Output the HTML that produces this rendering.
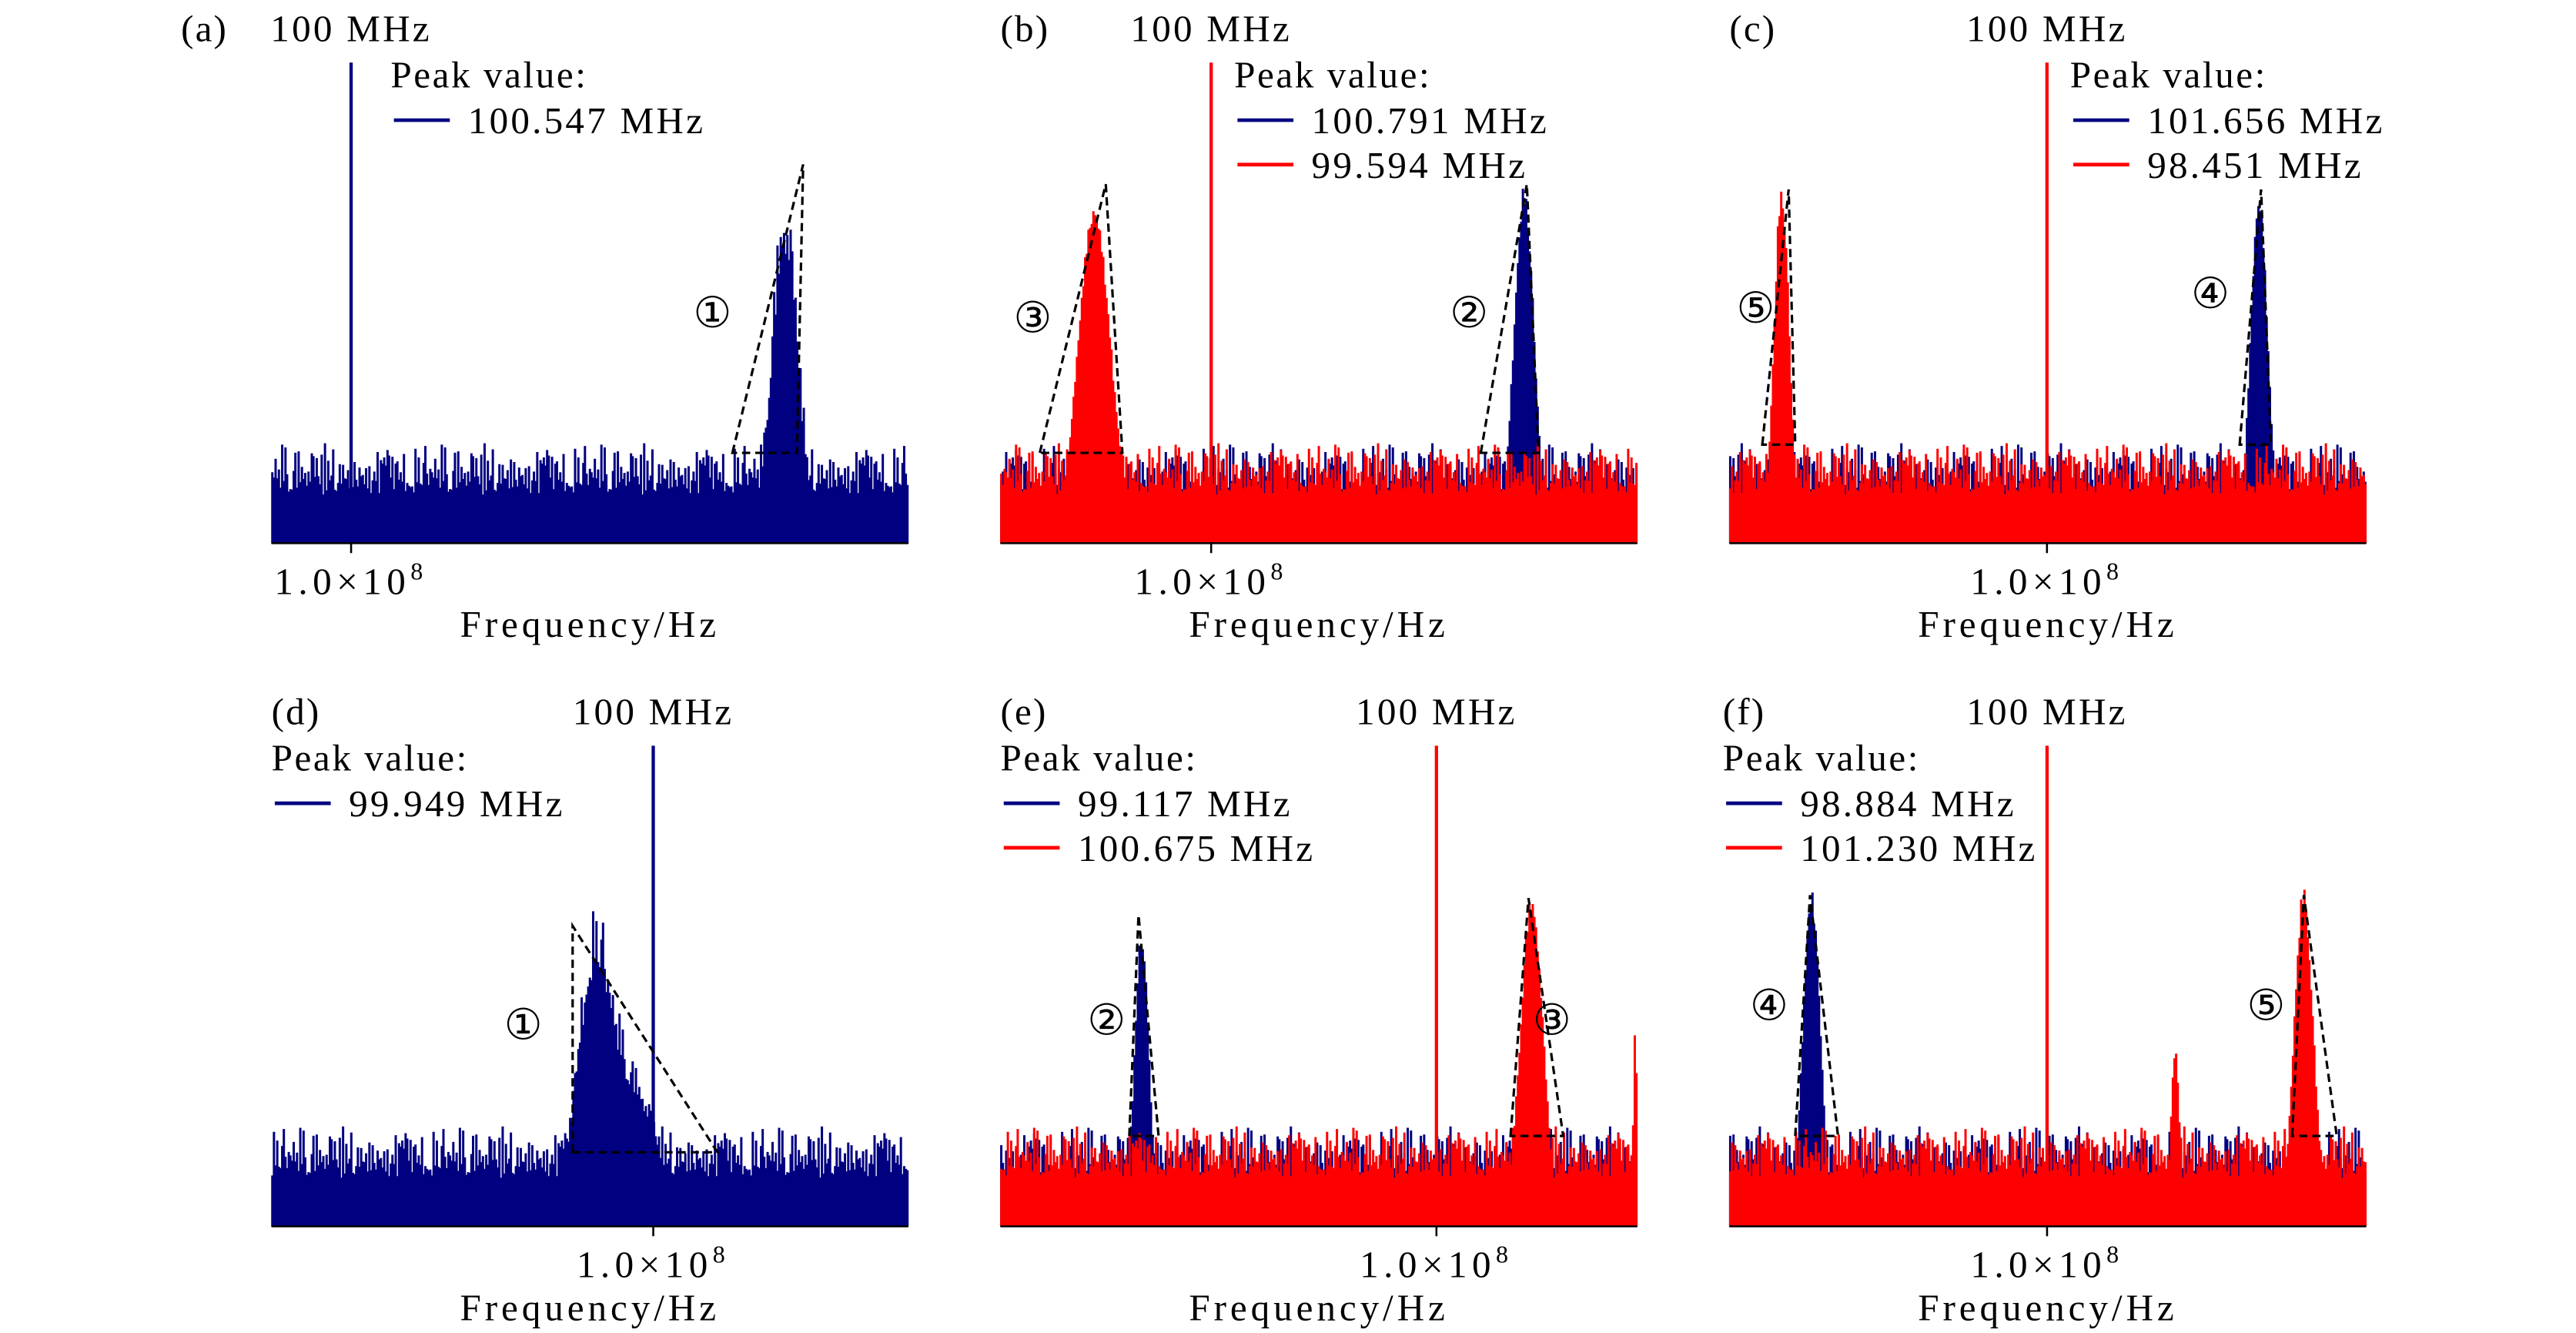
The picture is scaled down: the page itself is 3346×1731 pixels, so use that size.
<!DOCTYPE html>
<html><head><meta charset="utf-8">
<style>
html,body{margin:0;padding:0;background:#fff;}
svg{display:block;}
text{font-family:"Liberation Serif","DejaVu Serif",serif;fill:#000;}
.circ{font-family:"DejaVu Sans","Liberation Serif",sans-serif;}
</style></head>
<body>
<svg id="fig" xmlns="http://www.w3.org/2000/svg" width="3346" height="1731" viewBox="0 0 1565.5 809.8" preserveAspectRatio="none"></svg>
<script>
// ---- data arrays ----
const panelIds = ['a','b','c','d','e','f'];
const panelLo = [99.90, 99.464, 97.522, 99.072, 98.693, 98.494];
const panelHi = [100.70, 101.084, 102.491, 100.620, 100.602, 101.513];
const carrierFreq = [100, 100, 100, 100, 100, 100];
const carrierColor = ['blue','red','red','blue','red','red'];
const legendBlue = ['100.547 MHz','100.791 MHz','101.656 MHz','99.949 MHz','99.117 MHz','98.884 MHz'];
const legendRed = [null,'99.594 MHz','98.451 MHz',null,'100.675 MHz','101.230 MHz'];
// peaks: panel index, series, centre MHz, height, width MHz, jaggedness
const peakPanel  = [0, 1, 1, 2, 2, 3, 3, 4, 4, 4, 5, 5, 5];
const peakSeries = ['blue','red','blue','red','blue','blue','blue','blue','red','red','blue','red','red'];
const peakCentre = [100.545, 99.703, 100.796, 97.93, 101.656, 99.852, 99.94, 99.117, 100.286, 100.596, 98.884, 101.217, 100.608];
const peakHeight = [0.66, 0.69, 0.72, 0.72, 0.71, 0.45, 0.30, 0.60, 0.67, 0.40, 0.68, 0.68, 0.36];
const peakWidth  = [0.024, 0.058, 0.036, 0.085, 0.095, 0.055, 0.10, 0.030, 0.048, 0.008, 0.058, 0.064, 0.028];
const peakJag    = [0.35, 0.1, 0.1, 0.1, 0.1, 0.35, 0.35, 0.1, 0.1, 0.1, 0.1, 0.1, 0.1];
// dashed fit triangles
const triPanel = [0, 1, 1, 2, 2, 3, 4, 4, 5, 5];
const triLeft  = [100.479, 99.564, 100.686, 97.779, 101.503, 99.804, 99.079, 100.222, 98.806, 101.162];
const triApex  = [100.568, 99.732, 100.803, 97.984, 101.670, 99.804, 99.107, 100.276, 98.876, 101.217];
const triRight = [100.560, 99.774, 100.833, 98.035, 101.747, 100.156, 99.167, 100.380, 99.009, 101.373];
const triBase  = [0.188, 0.188, 0.188, 0.205, 0.205, 0.154, 0.188, 0.188, 0.188, 0.188];
const triTop   = [0.788, 0.747, 0.747, 0.736, 0.736, 0.625, 0.648, 0.683, 0.689, 0.689];
const markText = ['①','③','②','⑤','④','①','②','③','④','⑤'];
const markPanel = [0, 1, 1, 2, 2, 3, 4, 4, 5, 5];
const markFreq = [100.454, 99.546, 100.656, 97.727, 101.275, 99.684, 99.011, 100.346, 98.682, 101.038];
const markLevel = [0.48, 0.47, 0.48, 0.49, 0.52, 0.42, 0.43, 0.43, 0.46, 0.46];
// spectral noise floor samples (relative amplitude)
const noiseFloor = [1.05,0.82,1.31,0.95,0.74,1.18,0.88,1.42,0.91,0.79,1.12,1.27,0.85,0.97,1.36,0.72,1.08,0.93,1.21,0.86,
 1.02,1.33,0.77,0.99,1.15,0.83,1.25,0.90,1.48,0.81,1.06,0.94,1.19,0.76,1.29,0.89,1.01,1.38,0.84,0.96,
 1.13,0.78,1.24,0.92,1.05,1.44,0.80,0.98,1.17,0.87,1.30,0.75,1.09,0.95,1.22,0.83,1.35,0.91,1.03,0.79,
 1.26,0.88,1.11,0.97,1.40,0.82,1.04,0.93,1.20,0.74,1.32,0.86,1.07,0.99,1.16,0.81,1.28,0.90,1.46,0.85,
 1.00,0.94,1.23,0.77,1.10,1.34,0.87,0.96,1.14,0.80,1.27,0.92,1.06,1.39,0.84,1.18,0.89];
const noiseLevel = 0.14;
// ---- layout ----
const axL = [165, 608, 1051, 165, 608, 1051];
const axW = 387;
const axBase = [330, 330, 330, 745, 745, 745];
const axFull = 292;
const COL = {blue:'#000080', red:'#ff0000'};
const NS = 'http://www.w3.org/2000/svg';
const svg = document.getElementById('fig');
function mk(tag, attrs, parent){const e=document.createElementNS(NS,tag);for(const k in attrs)e.setAttribute(k,attrs[k]);(parent||svg).appendChild(e);return e;}
function xs(p,f){return axL[p]+(f-panelLo[p])/(panelHi[p]-panelLo[p])*axW;}
function ys(p,v){return axBase[p]-v*axFull;}
function txt(p,x,y,s,size,anchor,ls){const t=mk('text',{x:x,y:y,'font-size':size,'text-anchor':anchor||'start'},p);if(ls)t.setAttribute('letter-spacing',ls);t.textContent=s;return t;}

for(let p=0;p<6;p++){
  const g=mk('g',{});
  
  
  const series = legendRed[p]?['blue','red']:['blue'];
  series.forEach((s,si)=>{
    let d='M'+axL[p]+','+axBase[p];
    const shift = si*41 + p*17;
    for(let i=0;i<axW;i++){
      const f = panelLo[p]+(i+0.5)/axW*(panelHi[p]-panelLo[p]);
      const n = noiseFloor[(i*13+shift)%noiseFloor.length];
      let v = noiseLevel*n;
      let sum = 0, jag = 0;
      for(let k=0;k<peakCentre.length;k++){
        if(peakPanel[k]!==p||peakSeries[k]!==s)continue;
        const z=(f-peakCentre[k])/peakWidth[k];
        sum += peakHeight[k]*Math.exp(-z*z);
        jag = Math.max(jag, peakJag[k]);
      }
      v = Math.max(v, sum*((1-jag)+jag*(n-0.1)));
      const y=ys(p,Math.min(v,1));
      d+='L'+(axL[p]+i)+','+y.toFixed(1)+'L'+(axL[p]+i+1)+','+y.toFixed(1);
    }
    d+='L'+(axL[p]+axW)+','+axBase[p]+'Z';
    const path=mk('path',{d:d,fill:COL[s],stroke:COL[s],'stroke-width':0.4},g);
    
    
  });
  const cx=xs(p,carrierFreq[p]);
  const cl=mk('line',{x1:cx,x2:cx,y1:axBase[p],y2:ys(p,1),stroke:COL[carrierColor[p]],'stroke-width':2},g);
  
  
  const ax=mk('line',{x1:axL[p],x2:axL[p]+axW,y1:axBase[p],y2:axBase[p],stroke:'#000','stroke-width':1.2},g);
  
  
  const tk=mk('line',{x1:cx,x2:cx,y1:axBase[p],y2:axBase[p]+6,stroke:'#000','stroke-width':1.2},g);
  
  
  const tl=mk('text',{x:cx,y:axBase[p]+31,'font-size':23,'text-anchor':'middle','letter-spacing':3},g);
  
  
  tl.innerHTML='1.0×10<tspan dy="-9" font-size="15">8</tspan>';
  const xt=txt(g,axL[p]+axW/2,axBase[p]+57,'Frequency/Hz',23,'middle',2.3);
  
  
  const top = axBase[p]-305;
  const pl=txt(g, p===0 ? 110 : axL[p]-(p===5?4:0), top, '('+panelIds[p]+')',23,'start',1);
  
  
  const ml=txt(g,cx,top,'100 MHz',23,'middle',1.5);
  
  
  const lx = p<3 ? cx+ (p===0?24:14) : (p===3?165:axL[p]-(p===5?4:0));
  const ly = top+28;
  const lt=txt(g,lx,ly,'Peak value:',23,'start',1.2);
  
  
  [['blue',legendBlue[p]],['red',legendRed[p]]].forEach((e,ei)=>{
    if(!e[1])return;
    const yy=ly+20+ei*27;
    const lg=mk('g',{},g);
    
    
    mk('line',{x1:lx+2,x2:lx+36,y1:yy,y2:yy,stroke:COL[e[0]],'stroke-width':2.2},lg);
    txt(lg,lx+47,yy+8,e[1],23,'start',1.5);
  });
}
for(let k=0;k<triPanel.length;k++){
  const p=triPanel[k];
  const pts=[[xs(p,triLeft[k]),ys(p,triBase[k])],[xs(p,triApex[k]),ys(p,triTop[k])],[xs(p,triRight[k]),ys(p,triBase[k])]];
  const pl=mk('polygon',{points:pts.map(q=>q[0].toFixed(1)+','+q[1].toFixed(1)).join(' '),fill:'none',stroke:'#000','stroke-width':1.5,'stroke-dasharray':'5,3'});
  
  
}
for(let k=0;k<markText.length;k++){
  const p=markPanel[k];
  const t=mk('text',{x:xs(p,markFreq[k]),y:ys(p,markLevel[k])+9,'font-size':26,'text-anchor':'middle','class':'circ'});
  t.textContent=markText[k];
  
  
}
</script>
</body></html>
